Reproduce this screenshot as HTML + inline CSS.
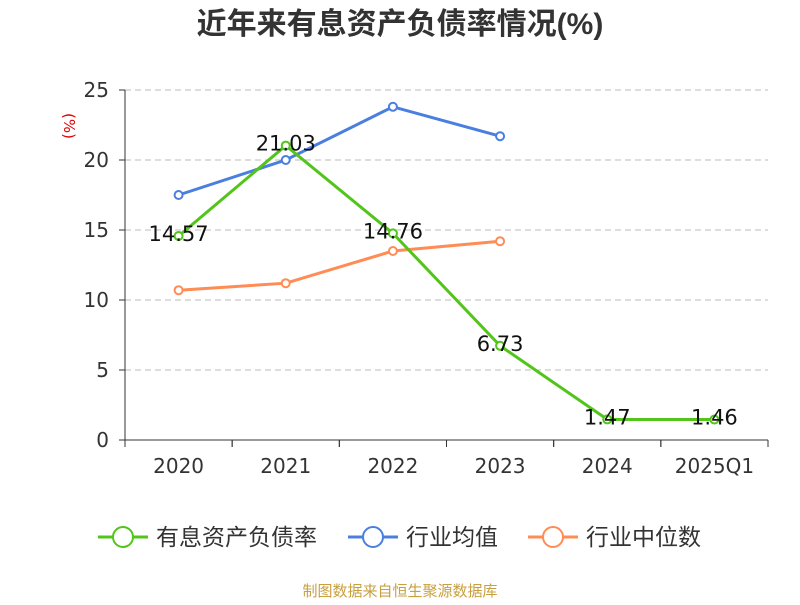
<!DOCTYPE html>
<html><head><meta charset="utf-8"><style>
body{margin:0;background:#fff;}
svg{font-family:"DejaVu Sans","Noto Sans CJK SC",sans-serif;}
</style></head><body>
<svg id="c" width="800" height="600">
<text x="400" y="34" text-anchor="middle" font-size="30" font-weight="bold" fill="#333" font-family="'Liberation Sans','Noto Sans CJK SC',sans-serif">近年来有息资产负债率情况(%)</text>
<text x="64" y="126" font-size="15" fill="#e00000" transform="rotate(90 64 126)" text-anchor="middle">(%)</text>
<g id="grid"></g><g id="axes"></g><g id="series"></g><g id="legend"></g>
<text x="400" y="596" text-anchor="middle" font-size="15" fill="#c8a040" font-family="'Liberation Sans','Noto Sans CJK SC',sans-serif">制图数据来自恒生聚源数据库</text>
</svg>
<script>
const categories=["2020","2021","2022","2023","2024","2025Q1"];
const yTicks=[0,5,10,15,20,25];
const debtRatio=[14.57,21.03,14.76,6.73,1.47,1.46];
const debtLabels=["14.57","21.03","14.76","6.73","1.47","1.46"];
const industryAvg=[17.5,20.0,23.8,21.7];
const industryMedian=[10.7,11.2,13.5,14.2];
const NS="http://www.w3.org/2000/svg";
const L=125,R=768,T=90,B=440;
const bw=(R-L)/categories.length;
const x=i=>L+bw*(i+0.5);
const y=v=>B-(v/25)*(B-T);
function mk(tag,attrs,parent,text){const e=document.createElementNS(NS,tag);for(const k in attrs)e.setAttribute(k,attrs[k]);if(text!==undefined)e.textContent=text;document.getElementById(parent).appendChild(e);return e;}
yTicks.forEach(t=>{
 if(t>0){const g=mk('line',{x1:L,x2:R,y1:y(t),y2:y(t),stroke:'#bbb','stroke-dasharray':'6,4'},'grid');
 
 }
 const tk=mk('line',{x1:L-6,x2:L,y1:y(t),y2:y(t),stroke:'#333'},'axes');
 
 
 const lb=mk('text',{x:L-16,y:y(t)+7,'text-anchor':'end','font-size':20,fill:'#333'},'axes',t);
 
 
});
const ya=mk('line',{x1:L,x2:L,y1:T,y2:B,stroke:'#333'},'axes');


const xa=mk('line',{x1:L,x2:R,y1:B,y2:B,stroke:'#333'},'axes');


categories.forEach((c,i)=>{
 for(const xx of [L+bw*i,L+bw*(i+1)]){const tk=mk('line',{x1:xx,x2:xx,y1:B,y2:B+7,stroke:'#333'},'axes');
 
 }
 const lb=mk('text',{x:x(i),y:B+33,'text-anchor':'middle','font-size':20,fill:'#333'},'axes',c);
 
 
});
function series(vals,color,name){
 const p=mk('polyline',{points:vals.map((v,i)=>x(i)+','+y(v)).join(' '),fill:'none',stroke:color,'stroke-width':3},'series');
 
 
 vals.forEach((v,i)=>{const c=mk('circle',{cx:x(i),cy:y(v),r:4,fill:'#fff',stroke:color,'stroke-width':2},'series');
 
 });
}
series(industryAvg,'#4a7fe0','industry-average');
series(industryMedian,'#ff8c55','industry-median');
series(debtRatio,'#52c41a','debt-ratio');
debtRatio.forEach((v,i)=>{const t=mk('text',{x:x(i),y:y(v)+5,'text-anchor':'middle','font-size':21,fill:'#111'},'series',debtLabels[i]);
 
 });
const leg=[["有息资产负债率","#52c41a",98],["行业均值","#4a7fe0",348],["行业中位数","#ff8c55",528]];
leg.forEach(([n,c,lx])=>{
 const g=mk('g',{},'legend');
 
 
 const l=document.createElementNS(NS,'line');l.setAttribute('x1',lx);l.setAttribute('x2',lx+50);l.setAttribute('y1',537);l.setAttribute('y2',537);l.setAttribute('stroke',c);l.setAttribute('stroke-width',3);g.appendChild(l);
 const ci=document.createElementNS(NS,'circle');ci.setAttribute('cx',lx+25);ci.setAttribute('cy',537);ci.setAttribute('r',10);ci.setAttribute('fill','#fff');ci.setAttribute('stroke',c);ci.setAttribute('stroke-width',2);g.appendChild(ci);
 const t=document.createElementNS(NS,'text');t.setAttribute('x',lx+58);t.setAttribute('y',545);t.setAttribute('font-size',23);t.setAttribute('fill','#333');t.textContent=n;g.appendChild(t);
});
</script>
</body></html>
